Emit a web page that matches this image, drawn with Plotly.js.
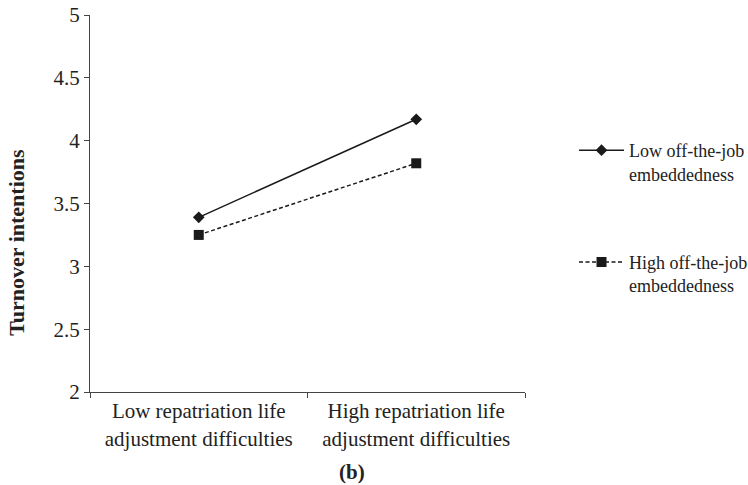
<!DOCTYPE html>
<html>
<head>
<meta charset="utf-8">
<script src="https://cdn.plot.ly/plotly-3.0.1.min.js"></script>
<style>html,body{margin:0;padding:0;background:#fff;}#chart{width:748px;height:485px;}</style>
</head>
<body>
<div id="chart"></div>
<script>
const categories = ["Low repatriation life<br>adjustment difficulties", "High repatriation life<br>adjustment difficulties"];
const lowEmbeddedness = [3.39, 4.17];
const highEmbeddedness = [3.25, 3.82];
const seriesNames = ["Low off-the-job<br>embeddedness", "High off-the-job<br>embeddedness"];
const yTicks = [2, 2.5, 3, 3.5, 4, 4.5, 5];
const yTickLabels = ["2", "2.5", "3", "3.5", "4", "4.5", "5"];

const FONT = "Liberation Serif, Times New Roman, serif";
const INK = "#1a1a1a";

const traces = [
  {
    x: categories, y: lowEmbeddedness, name: seriesNames[0], legendgroup: "a",
    type: "scatter", mode: "lines+markers",
    line: {color: INK, width: 1.5},
    marker: {symbol: "diamond", size: 9, color: INK}
  },
  {
    x: categories, y: highEmbeddedness, name: seriesNames[1], legendgroup: "b",
    type: "scatter", mode: "lines+markers",
    line: {color: INK, width: 1.5, dash: "4px,2.5px"},
    marker: {symbol: "square", size: 10, color: INK}
  }
];

const layout = {
  width: 748, height: 485,
  margin: {l: 90, r: 223, t: 15, b: 93},
  paper_bgcolor: "#fff", plot_bgcolor: "#fff",
  font: {family: FONT, size: 21, color: "#222"},
  showlegend: true,
  legend: {
    xref: "container", yref: "container",
    x: 0.7674, xanchor: "left", y: 1 - 132 / 485, yanchor: "top",
    font: {family: FONT, size: 18, color: "#222"},
    traceorder: "grouped", tracegroupgap: 62, valign: "top",
    itemwidth: 45, bgcolor: "rgba(0,0,0,0)"
  },
  xaxis: {
    type: "category", range: [-0.5, 1.5], automargin: false,
    showline: true, linecolor: "#444", linewidth: 1,
    ticks: "outside", tickson: "boundaries", ticklen: 5, tickcolor: "#444",
    showgrid: false, zeroline: false,
    tickfont: {family: FONT, size: 21, color: "#222"}
  },
  yaxis: {
    range: [2, 5], tickvals: yTicks, ticktext: yTickLabels, automargin: false,
    showline: true, linecolor: "#444", linewidth: 1,
    ticks: "outside", ticklen: 5, tickcolor: "#444",
    showgrid: false, zeroline: false,
    tickfont: {family: FONT, size: 21, color: "#222"}
  },
  annotations: [
    {text: "<b>Turnover intentions</b>", xref: "paper", yref: "paper",
     x: -0.168, y: 0.398, textangle: -90, showarrow: false,
     font: {family: FONT, size: 22, color: "#222"}, xanchor: "center", yanchor: "middle"},
    {text: "<b>(b)</b>", xref: "paper", yref: "paper",
     x: 0.602, y: -0.212, showarrow: false,
     font: {family: FONT, size: 21, color: "#222"}, xanchor: "center", yanchor: "middle"}
  ]
};

Plotly.newPlot("chart", traces, layout, {displayModeBar: false, staticPlot: true});
</script>
</body>
</html>
